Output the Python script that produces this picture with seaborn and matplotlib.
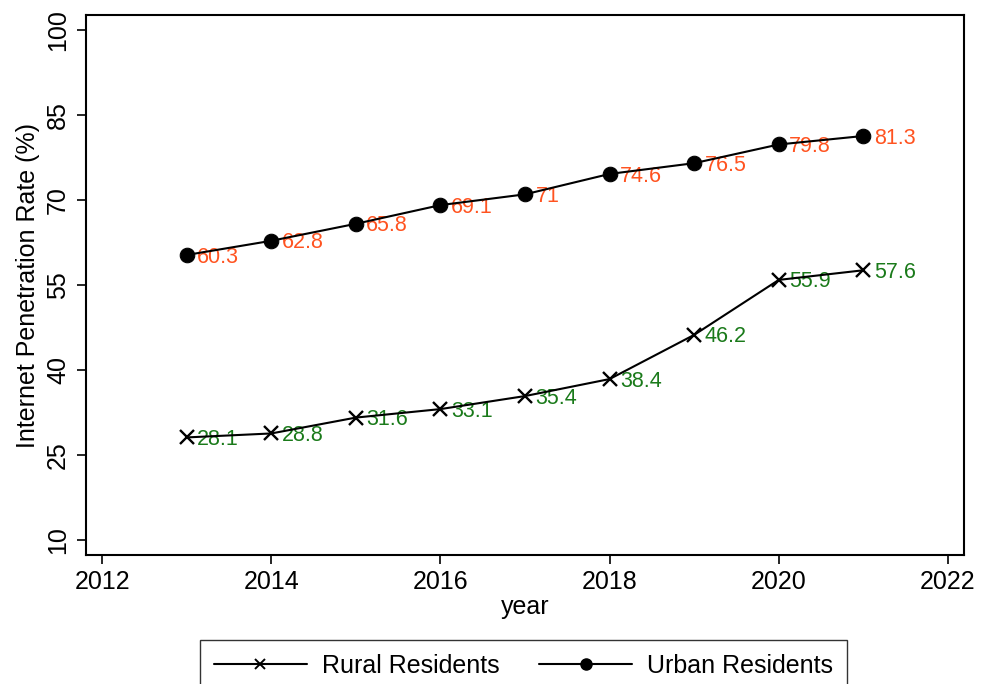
import matplotlib
matplotlib.use("Agg")
import matplotlib.pyplot as plt
import seaborn as sns
import pandas as pd
from matplotlib.lines import Line2D

years = [2013, 2014, 2015, 2016, 2017, 2018, 2019, 2020, 2021]
rural = [28.1, 28.8, 31.6, 33.1, 35.4, 38.4, 46.2, 55.9, 57.6]
urban = [60.3, 62.8, 65.8, 69.1, 71.0, 74.6, 76.5, 79.8, 81.3]
rural_labels = ["28.1", "28.8", "31.6", "33.1", "35.4", "38.4", "46.2", "55.9", "57.6"]
urban_labels = ["60.3", "62.8", "65.8", "69.1", "71", "74.6", "76.5", "79.8", "81.3"]
series_names = ["Rural Residents", "Urban Residents"]
x_ticks = [2012, 2014, 2016, 2018, 2020, 2022]
y_ticks = [10, 25, 40, 55, 70, 85, 100]

df = pd.DataFrame({
    "year": years * 2,
    "rate": rural + urban,
    "group": [series_names[0]] * len(years) + [series_names[1]] * len(years),
})

sns.set_theme(style="ticks")
plt.rcParams["font.family"] = ["Liberation Sans", "DejaVu Sans"]
plt.rcParams.update({
    "text.color": "black",
    "axes.labelcolor": "black",
    "xtick.color": "black",
    "ytick.color": "black",
    "xtick.labelcolor": "black",
    "ytick.labelcolor": "black",
})

fig = plt.figure(figsize=(9.88, 6.84), dpi=100)
ax = fig.add_axes([86 / 988, 1 - 555 / 684, (964 - 86) / 988, (555 - 15) / 684])

label_color = {"Rural Residents": "#1a7a1a", "Urban Residents": "#ff5320"}
label_text = {"Rural Residents": rural_labels, "Urban Residents": urban_labels}
values = {"Rural Residents": rural, "Urban Residents": urban}

# data labels sit to the right of each marker
for name in series_names:
    for x, y, t in zip(years, values[name], label_text[name]):
        ax.annotate(t, (x, y), xytext=(7.5, -1.5), textcoords="offset points",
                    ha="left", va="center", fontsize=15.5,
                    color=label_color[name], zorder=1)

sns.lineplot(data=df, x="year", y="rate", hue="group", style="group",
             markers={"Rural Residents": "X", "Urban Residents": "o"},
             dashes=False, palette={"Rural Residents": "black", "Urban Residents": "black"},
             ax=ax, legend=False, linewidth=1.5, zorder=3)

# restyle markers: thin cross for rural, filled dot for urban
for line in ax.get_lines():
    ydata = list(line.get_ydata())
    if ydata == rural:
        line.set_marker("x")
        line.set_markersize(9.5)
        line.set_markeredgewidth(1.7)
        line.set_markeredgecolor("black")
    else:
        line.set_marker("o")
        line.set_markersize(10.5)
        line.set_markerfacecolor("black")
        line.set_markeredgecolor("black")

ax.set_xlim(2011.81, 2022.19)
ax.set_ylim(7.35, 102.65)
ax.set_xticks(x_ticks)
ax.set_yticks(y_ticks)
ax.set_xticklabels([str(v) for v in x_ticks], fontsize=18, color="black")
ax.set_yticklabels([str(v) for v in y_ticks], fontsize=18, rotation=90, va="center", color="black")
ax.tick_params(axis="both", direction="out", length=6.5, width=1.2, color="black")
ax.tick_params(axis="x", pad=4)
ax.tick_params(axis="y", pad=5)
ax.set_xlabel("year", fontsize=18, labelpad=1, color="black")
ax.set_ylabel("Internet Penetration Rate (%)", fontsize=18, labelpad=4, color="black")
for side in ["left", "right", "top", "bottom"]:
    ax.spines[side].set_visible(True)
    ax.spines[side].set_color("black")
    ax.spines[side].set_linewidth(1.5)

handles = [
    Line2D([0], [0], color="black", lw=1.5, marker="x", markersize=7.5, markeredgewidth=1.4),
    Line2D([0], [0], color="black", lw=1.5, marker="o", markersize=8),
]
leg = fig.legend(handles, series_names, loc="upper center", bbox_to_anchor=(523.5 / 988, 1 - 640 / 684),
                 ncol=2, fontsize=18, frameon=True, fancybox=False, handlelength=3.7,
                 columnspacing=1.6, handletextpad=0.6, borderpad=0.55, borderaxespad=0)
leg.get_frame().set_edgecolor("black")
leg.get_frame().set_linewidth(1.0)
for txt in leg.get_texts():
    txt.set_color("black")

fig.savefig("out.png", dpi=100)
